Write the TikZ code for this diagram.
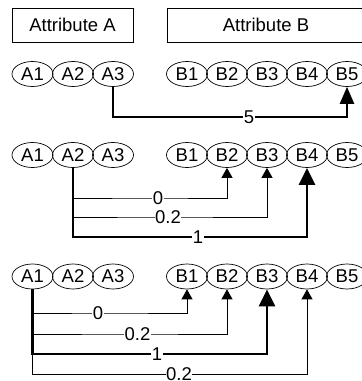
\documentclass[tikz,border=0pt]{standalone}
\usepackage{fontspec}
\setmainfont{Liberation Sans}
\usetikzlibrary{arrows.meta,shapes.geometric}
\begin{document}
\begin{tikzpicture}[x=1pt,y=-1pt,
  every node/.style={font=\fontsize{18.5}{20}\selectfont},
  hdr/.style={draw, line width=0.8pt, minimum height=34pt, inner sep=0pt},
  val/.style={draw, ellipse, line width=0.7pt, minimum width=41pt, minimum height=25pt, inner sep=0pt},
  lbl/.style={fill=white, inner sep=0.6pt, text depth=0pt},
  thinc/.style={line width=0.9pt, -{Triangle[width=11pt,length=10pt]}},
  thickc/.style={line width=2.8pt, -{Triangle[width=16pt,length=17pt]}},
  midc/.style={line width=2.4pt, -{Triangle[width=14pt,length=17pt]}}]
\useasboundingbox (0,0) rectangle (362,381);
\clip (0,0) rectangle (362,381);
% headers
\node[hdr, minimum width=121pt] (HA) at (72.5,25) {Attribute A};
\node[hdr, minimum width=198pt] (HB) at (266,25) {Attribute B};
% row 1
\foreach \n/\x in {A1/32.5,A2/73,A3/113,B1/187,B2/227,B3/267,B4/307,B5/347}
  \node[val] (r1\n) at (\x,74) {\n};
% row 2
\foreach \n/\x in {A1/32.5,A2/73,A3/113,B1/187,B2/227,B3/267,B4/307,B5/347}
  \node[val] (r2\n) at (\x,155) {\n};
% row 3
\foreach \n/\x in {A1/32.5,A2/73,A3/113,B1/187,B2/227,B3/267,B4/307,B5/347}
  \node[val] (r3\n) at (\x,276.5) {\n};
% row 1 connector
\draw[midc] (r1A3.south) |- (249,117) -| (r1B5.south);
\node[lbl] at (249,117) {5};
% row 2 connectors
\draw[thinc] (r2A2.south) |- (150,198) -| (r2B2.south);
\draw[thinc] (r2A2.south) |- (160,217) -| (r2B3.south);
\draw[thickc] (r2A2.south) |- (190,237) -| (r2B4.south);
\node[lbl] at (158,198) {0};
\node[lbl] at (168,217) {0.2};
\node[lbl] at (198,237) {1};
% row 3 connectors
\draw[thinc] (r3A1.south) |- (110,313) -| (r3B1.south);
\draw[thinc] (r3A1.south) |- (130,334) -| (r3B2.south);
\draw[thinc] (r3A1.south) |- (170,374.5) -| (r3B4.south);
\draw[thickc] (r3A1.south) |- (150,354) -| (r3B3.south);
\node[lbl] at (98,313) {0};
\node[lbl] at (137.5,334) {0.2};
\node[lbl] at (157,354) {1};
\node[lbl] at (179,374) {0.2};
\end{tikzpicture}
\end{document}
